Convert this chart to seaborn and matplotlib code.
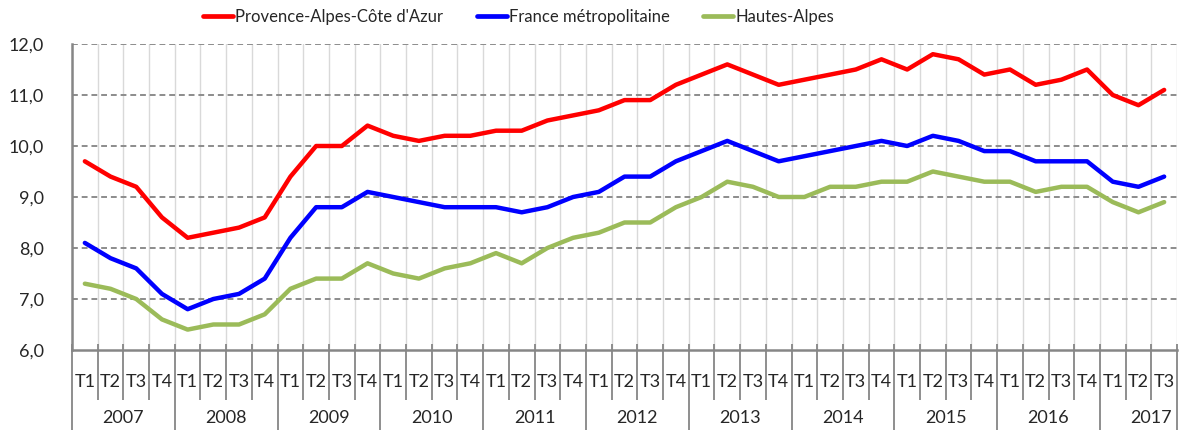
import numpy as np
import pandas as pd
import matplotlib
matplotlib.use("Agg")
import matplotlib.pyplot as plt
import seaborn as sns

# Quarterly unemployment rates (%), 2007 T1 to 2017 T3
years = ["2007", "2008", "2009", "2010", "2011", "2012",
         "2013", "2014", "2015", "2016", "2017"]
quarters = ["T1", "T2", "T3", "T4"]

paca = [9.7, 9.4, 9.2, 8.6,
        8.2, 8.3, 8.4, 8.6,
        9.4, 10.0, 10.0, 10.4,
        10.2, 10.1, 10.2, 10.2,
        10.3, 10.3, 10.5, 10.6,
        10.7, 10.9, 10.9, 11.2,
        11.4, 11.6, 11.4, 11.2,
        11.3, 11.4, 11.5, 11.7,
        11.5, 11.8, 11.7, 11.4,
        11.5, 11.2, 11.3, 11.5,
        11.0, 10.8, 11.1]
france = [8.1, 7.8, 7.6, 7.1,
          6.8, 7.0, 7.1, 7.4,
          8.2, 8.8, 8.8, 9.1,
          9.0, 8.9, 8.8, 8.8,
          8.8, 8.7, 8.8, 9.0,
          9.1, 9.4, 9.4, 9.7,
          9.9, 10.1, 9.9, 9.7,
          9.8, 9.9, 10.0, 10.1,
          10.0, 10.2, 10.1, 9.9,
          9.9, 9.7, 9.7, 9.7,
          9.3, 9.2, 9.4]
hautes_alpes = [7.3, 7.2, 7.0, 6.6,
                6.4, 6.5, 6.5, 6.7,
                7.2, 7.4, 7.4, 7.7,
                7.5, 7.4, 7.6, 7.7,
                7.9, 7.7, 8.0, 8.2,
                8.3, 8.5, 8.5, 8.8,
                9.0, 9.3, 9.2, 9.0,
                9.0, 9.2, 9.2, 9.3,
                9.3, 9.5, 9.4, 9.3,
                9.3, 9.1, 9.2, 9.2,
                8.9, 8.7, 8.9]

series_names = ["Provence-Alpes-Côte d'Azur", "France métropolitaine", "Hautes-Alpes"]
series_colors = ["#FF0000", "#0000FF", "#9BBB59"]

n = len(paca)
idx = np.arange(n)
q_labels = [quarters[i % 4] for i in range(n)]

df = pd.concat([
    pd.DataFrame({"i": idx, "taux": vals, "serie": name})
    for name, vals in zip(series_names, [paca, france, hautes_alpes])
])

sns.set_style("white")
plt.rcParams["font.family"] = ["Lato", "DejaVu Sans"]

W, H = 1181, 430
fig = plt.figure(figsize=(W / 100, H / 100), dpi=100)
x0, x1, y_top, y_bot = 72, 1177, 44, 350
ax = fig.add_axes([x0 / W, 1 - y_bot / H, (x1 - x0) / W, (y_bot - y_top) / H])

grey = "#868686"
fs = 13

# light vertical separators between quarters inside the plot
for b in np.arange(-0.5, n, 1.0):
    ax.axvline(b, color="#D9D9D9", lw=1, zorder=0)
# dashed horizontal gridlines
for yv in range(7, 13):
    ax.axhline(yv, color="#8C8C8C", lw=1.4, ls=(0, (3, 2)), zorder=0.5)

sns.lineplot(data=df, x="i", y="taux", hue="serie", hue_order=series_names,
             palette=series_colors, linewidth=3.2, ax=ax, legend=False,
             zorder=3)

ax.set_xlim(-0.5, n - 0.5)
ax.set_ylim(6, 12)
ax.set_yticks(range(6, 13))
ax.set_yticklabels([f"{v},0" for v in range(6, 13)], fontsize=fs)
ax.tick_params(axis="y", direction="out", length=6, width=1.5, color=grey, pad=14)
ax.set_xticks([])
ax.set_xlabel("")
ax.set_ylabel("")
for s in ["top", "right"]:
    ax.spines[s].set_visible(False)
for s in ["left", "bottom"]:
    ax.spines[s].set_color(grey)
    ax.spines[s].set_linewidth(1.8)

# two-level category axis: quarters then years
ah = y_bot - y_top
trans = ax.get_xaxis_transform()
for b in np.arange(-0.5, n + 0.5, 1.0):
    k = int(b + 0.5)
    bottom = -80 / ah if k % 4 == 0 or k == n else -50 / ah
    ax.plot([b, b], [6 / ah, bottom], transform=trans, color=grey, lw=1.3,
            clip_on=False, solid_capstyle="butt")
for i, lab in enumerate(q_labels):
    ax.text(i, -32 / ah, lab, transform=trans, ha="center", va="center",
            fontsize=fs)
for j, yr in enumerate(years):
    ax.text(4 * j + 1.5, -68 / ah, yr, transform=trans, ha="center",
            va="center", fontsize=fs)

handles = [plt.Line2D([], [], color=c, lw=3.4) for c in series_colors]
fig.legend(handles, series_names, loc="center left",
           bbox_to_anchor=(196 / W, 1 - 17 / H), ncol=3, frameon=False,
           fontsize=12, handlelength=1.8, handletextpad=0.15,
           columnspacing=2.0, borderaxespad=0)

fig.savefig("out.png", dpi=100)
